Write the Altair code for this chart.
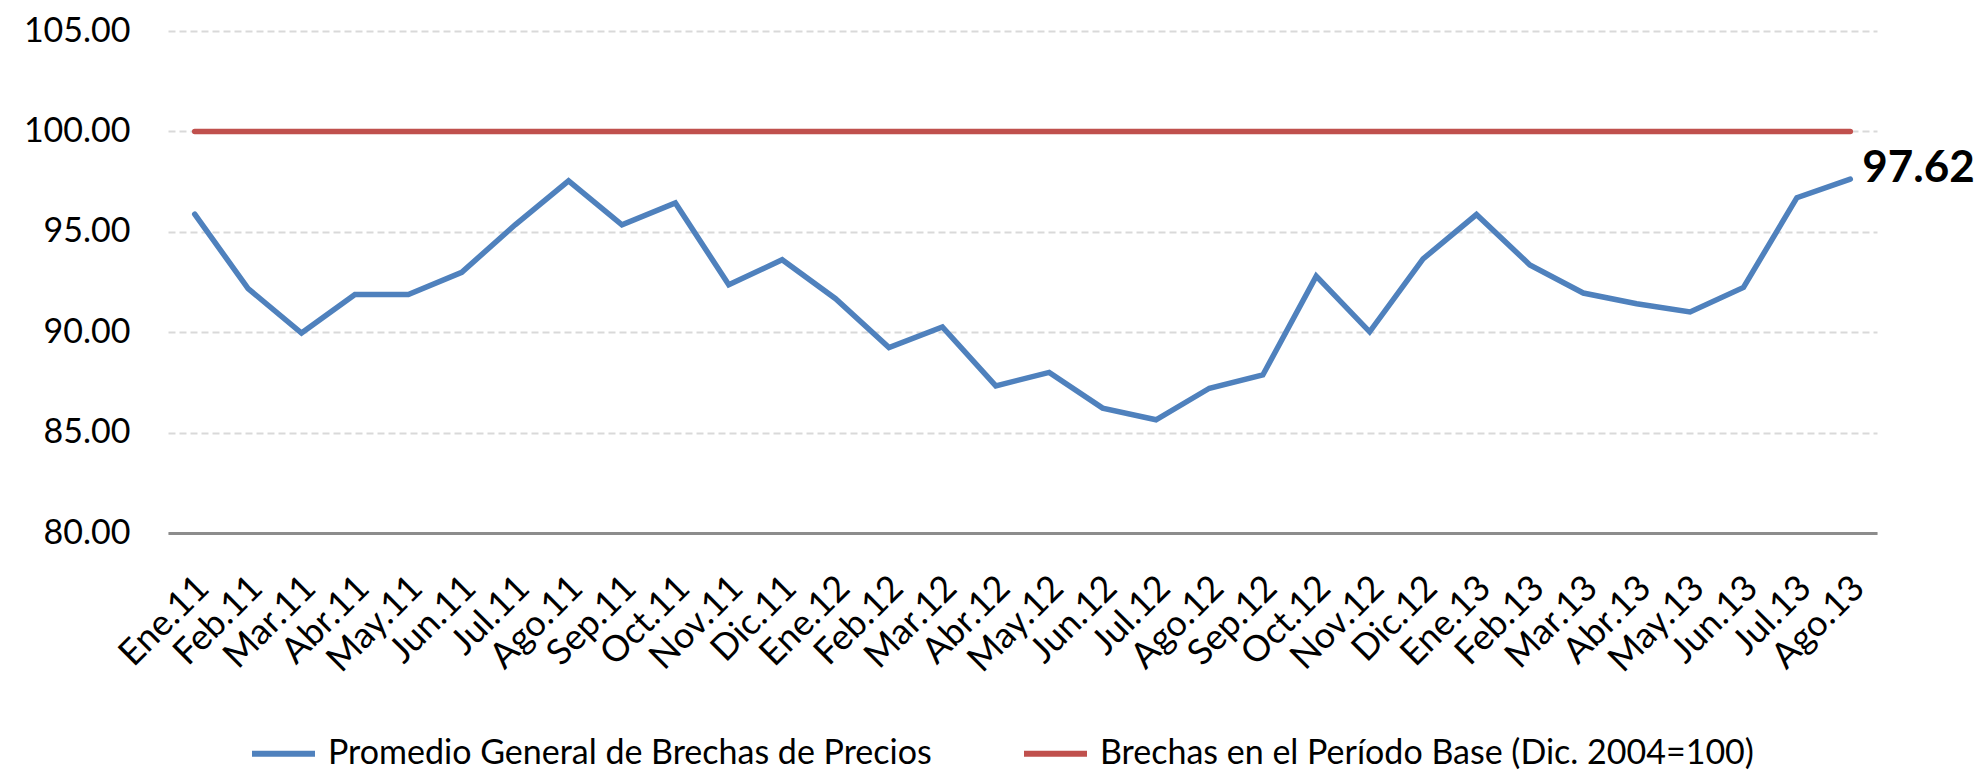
import altair as alt
import pandas as pd

months = ["Ene.11", "Feb.11", "Mar.11", "Abr.11", "May.11", "Jun.11", "Jul.11", "Ago.11",
          "Sep.11", "Oct.11", "Nov.11", "Dic.11", "Ene.12", "Feb.12", "Mar.12", "Abr.12",
          "May.12", "Jun.12", "Jul.12", "Ago.12", "Sep.12", "Oct.12", "Nov.12", "Dic.12",
          "Ene.13", "Feb.13", "Mar.13", "Abr.13", "May.13", "Jun.13", "Jul.13", "Ago.13"]

promedio = [95.88, 92.17, 89.96, 91.88, 91.88, 92.98, 95.35, 97.54,
            95.35, 96.44, 92.36, 93.61, 91.67, 89.24, 90.26, 87.33,
            88.00, 86.22, 85.64, 87.21, 87.87, 92.79, 90.02, 93.65,
            95.86, 93.35, 91.95, 91.42, 91.01, 92.23, 96.70, 97.62]

base = [100.0, 100.0, 100.0, 100.0, 100.0, 100.0, 100.0, 100.0,
        100.0, 100.0, 100.0, 100.0, 100.0, 100.0, 100.0, 100.0,
        100.0, 100.0, 100.0, 100.0, 100.0, 100.0, 100.0, 100.0,
        100.0, 100.0, 100.0, 100.0, 100.0, 100.0, 100.0, 100.0]

series_names = ["Promedio General de Brechas de Precios",
                "Brechas en el Período Base (Dic. 2004=100)"]
series_colors = ["#4F81BD", "#C0504D"]
y_ticks = [80, 85, 90, 95, 100, 105]

rows = []
for m, v in zip(months, promedio):
    rows.append({"mes": m, "valor": v, "serie": series_names[0]})
for m, v in zip(months, base):
    rows.append({"mes": m, "valor": v, "serie": series_names[1]})
df = pd.DataFrame(rows)

last_df = pd.DataFrame([{"mes": months[-1], "valor": promedio[-1]}])

FONT = "Lato"

x_enc = alt.X(
    "mes:N", sort=months,
    axis=alt.Axis(title=None, labelAngle=-45, labelAlign="right", labelBaseline="top",
                  labelPadding=37, labelOffset=-4, labelFontSize=36, labelFont=FONT,
                  labelColor="black", ticks=False, domainColor="#8C8C8C", domainWidth=3,
                  grid=False, labelOverlap=False),
)
y_enc = alt.Y(
    "valor:Q",
    scale=alt.Scale(domain=[80, 105], nice=False, zero=False),
    axis=alt.Axis(title=None, values=y_ticks, format=".2f", grid=True, gridDash=[7, 4],
                  gridColor="#D9D9D9", gridWidth=2, domain=False, ticks=False,
                  labelPadding=38, labelFontSize=34, labelFont=FONT, labelColor="black"),
)

lines = alt.Chart(df).mark_line(strokeWidth=5.5, strokeCap="round", strokeJoin="miter").encode(
    x=x_enc,
    y=y_enc,
    color=alt.Color(
        "serie:N",
        scale=alt.Scale(domain=series_names, range=series_colors),
        legend=alt.Legend(title=None, orient="none", legendX=81, legendY=688,
                          direction="horizontal", columns=2, padding=0,
                          symbolType="stroke", symbolSize=3969, symbolStrokeWidth=6,
                          labelFontSize=34, labelFont=FONT, labelColor="black",
                          labelOffset=10, columnPadding=80, labelLimit=1500),
    ),
    detail="serie:N",
)

label = alt.Chart(last_df).mark_text(
    align="left", baseline="middle", dx=12, dy=-10, fontSize=44, fontWeight="bold",
    font=FONT, color="black",
).encode(
    x=alt.X("mes:N", sort=months),
    y=alt.Y("valor:Q"),
    text=alt.Text("valor:Q", format=".2f"),
)

chart = alt.layer(lines, label).properties(
    width=1709, height=502,
    autosize=alt.AutoSizeParams(type="none"),
    padding={"left": 160, "top": 23, "right": 99, "bottom": 240},
    background="white",
).configure_view(stroke=None)

chart.save("out.html", embed_options={"renderer": "svg", "actions": False})
